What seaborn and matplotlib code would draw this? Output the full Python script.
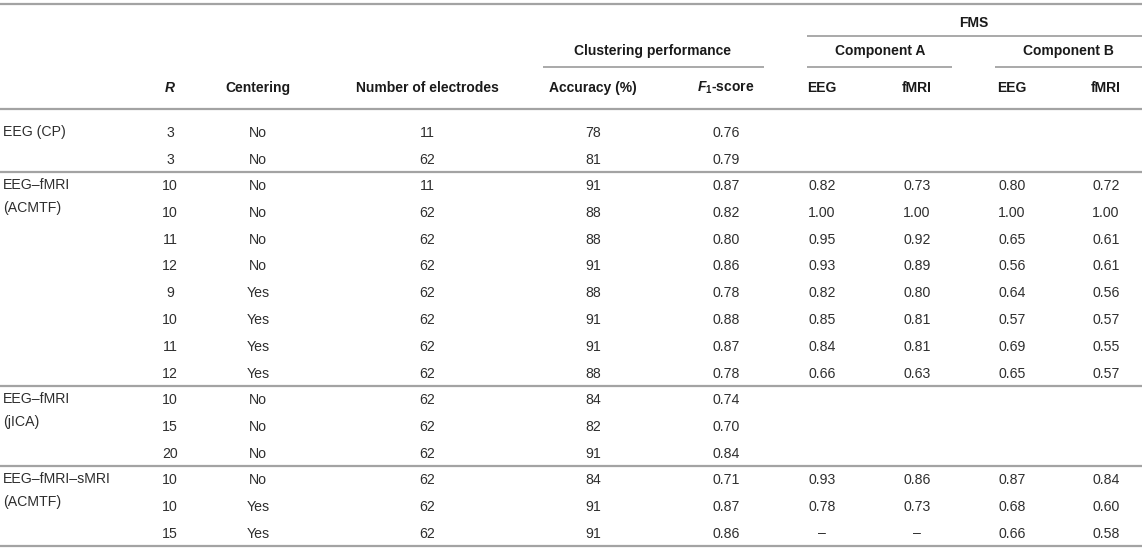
import numpy as np
import pandas as pd
import seaborn as sns
import matplotlib
matplotlib.use("Agg")
import matplotlib.pyplot as plt

# table content
groups = ["EEG (CP)", "EEG–fMRI\n(ACMTF)", "EEG–fMRI\n(jICA)", "EEG–fMRI–sMRI\n(ACMTF)"]
group_sizes = [2, 8, 3, 3]
r_values = [3, 3, 10, 10, 11, 12, 9, 10, 11, 12, 10, 15, 20, 10, 10, 15]
centering = ["No", "No", "No", "No", "No", "No", "Yes", "Yes", "Yes", "Yes",
             "No", "No", "No", "No", "Yes", "Yes"]
electrodes = [11, 62, 11, 62, 62, 62, 62, 62, 62, 62, 62, 62, 62, 62, 62, 62]
accuracy = [78, 81, 91, 88, 88, 91, 88, 91, 91, 88, 84, 82, 91, 84, 91, 91]
f1_score = [0.76, 0.79, 0.87, 0.82, 0.80, 0.86, 0.78, 0.88, 0.87, 0.78,
            0.74, 0.70, 0.84, 0.71, 0.87, 0.86]
# None = empty cell, "–" = not available
fms_a_eeg = [None, None, 0.82, 1.00, 0.95, 0.93, 0.82, 0.85, 0.84, 0.66,
             None, None, None, 0.93, 0.78, "–"]
fms_a_fmri = [None, None, 0.73, 1.00, 0.92, 0.89, 0.80, 0.81, 0.81, 0.63,
              None, None, None, 0.86, 0.73, "–"]
fms_b_eeg = [None, None, 0.80, 1.00, 0.65, 0.56, 0.64, 0.57, 0.69, 0.65,
             None, None, None, 0.87, 0.68, 0.66]
fms_b_fmri = [None, None, 0.72, 1.00, 0.61, 0.61, 0.56, 0.57, 0.55, 0.57,
              None, None, None, 0.84, 0.60, 0.58]

col_headers = ["$R$", "Centering", "Number of electrodes", "Accuracy (%)",
               "$F_1$-score", "EEG", "fMRI", "EEG", "fMRI"]

df = pd.DataFrame({
    "R": r_values, "Centering": centering, "Electrodes": electrodes,
    "Accuracy": accuracy, "F1": f1_score,
    "A_EEG": fms_a_eeg, "A_fMRI": fms_a_fmri,
    "B_EEG": fms_b_eeg, "B_fMRI": fms_b_fmri,
})

sns.set_theme(style="white")
plt.rcParams["font.family"] = ["Liberation Sans", "DejaVu Sans"]
plt.rcParams["mathtext.fontset"] = "custom"
plt.rcParams["mathtext.rm"] = "Liberation Sans:bold"
plt.rcParams["mathtext.it"] = "Liberation Sans:italic:bold"
plt.rcParams["mathtext.bf"] = "Liberation Sans:bold"

W, H = 1145, 551
fig = plt.figure(figsize=(W / 100, H / 100), dpi=100)
ax = fig.add_axes([0, 0, 1, 1])
ax.set_xlim(0, W)
ax.set_ylim(H, 0)
ax.axis("off")

fs_head = 10
fs_body = 10.2
body_color = "#2e2e2e"
head_color = "#1a1a1a"
line_color = "#a3a3a3"
col_x = [170, 258, 427, 593, 726, 822, 917, 1012, 1106]
x_left, x_right = 0, 1142


def put(x, y, s, bold=False, ha="center", **kw):
    ax.text(x, y + 5, s, ha=ha, va="baseline",
            fontsize=fs_head if bold else fs_body,
            fontweight="bold" if bold else "normal",
            color=head_color if bold else body_color, **kw)


def hline(y, x0=x_left, x1=x_right, lw=1.6):
    ax.plot([x0, x1], [y, y], color=line_color, lw=lw, solid_capstyle="butt")


# header block
hline(4)
put(974, 22, "FMS", bold=True)
hline(36, 807, x_right, lw=1.3)
put(653, 50, "Clustering performance", bold=True)
put(880, 50, "Component A", bold=True)
put(1068, 50, "Component B", bold=True)
hline(67, 543, 764, lw=1.3)
hline(67, 807, 952, lw=1.3)
hline(67, 995, x_right, lw=1.3)
for x, h in zip(col_x, col_headers):
    put(x, 87, h, bold=True)
hline(109)

# body rows
step = 26.75
label_step = 23
y = 132
row = 0
cols = list(df.columns)
for g, n in zip(groups, group_sizes):
    ys = [y + i * step for i in range(n)]
    for k, part in enumerate(g.split("\n")):
        put(3, ys[0] - 1 + k * label_step, part, ha="left")
    for yy in ys:
        rec = df.iloc[row]
        for x, c in zip(col_x, cols):
            v = rec[c]
            if v is None or (isinstance(v, float) and np.isnan(v)):
                continue
            if isinstance(v, (float, np.floating)) and c not in ("R", "Electrodes", "Accuracy"):
                s = f"{v:.2f}"
            else:
                s = str(v)
            put(x, yy, s)
        row += 1
    line_y = ys[-1] + 13
    hline(line_y)
    y = line_y + 13.5

fig.savefig("out.png", dpi=100)
